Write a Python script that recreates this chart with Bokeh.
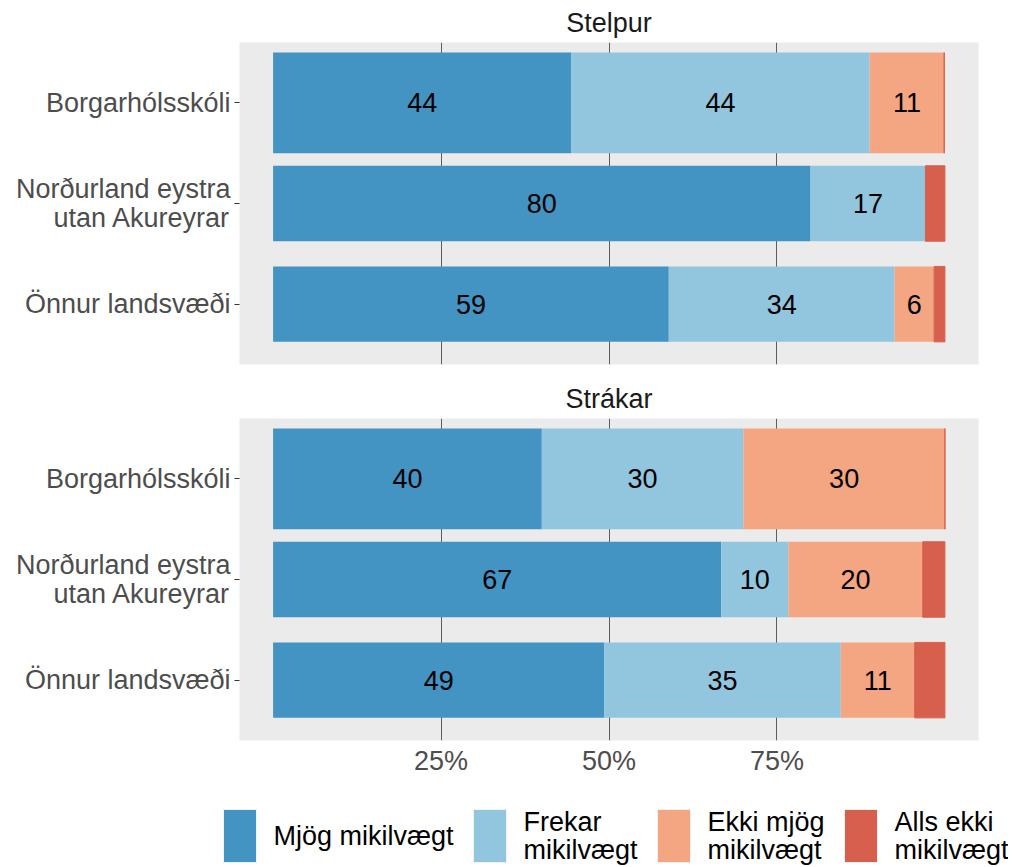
from bokeh.plotting import figure
from bokeh.models import ColumnDataSource, FactorRange, Range1d, FixedTicker
from bokeh.layouts import column
from bokeh.embed import file_html
from bokeh.resources import INLINE
from bokeh.core.properties import value

# ---------------- data ----------------
categories = ["Borgarhólsskóli", "Norðurland eystra\nutan Akureyrar", "Önnur landsvæði"]
legend_labels = ["Mjög mikilvægt", "Frekar\nmikilvægt", "Ekki mjög\nmikilvægt", "Alls ekki\nmikilvægt"]
panel_titles = ["Stelpur", "Strákar"]

stelpur_mjog = [44.4, 80.0, 58.9]
stelpur_frekar = [44.4, 17.1, 33.6]
stelpur_ekki = [11.1, 0.0, 5.9]
stelpur_alls = [0.0, 2.9, 1.6]

strakar_mjog = [40.0, 66.7, 49.3]
strakar_frekar = [30.0, 10.0, 35.2]
strakar_ekki = [30.0, 20.0, 11.0]
strakar_alls = [0.0, 3.3, 4.5]

x_ticks = [25, 50, 75]
x_tick_labels = ["25%", "50%", "75%"]

# ---------------- style ----------------
colors = ["#4393C3", "#92C5DE", "#F4A582", "#D6604D"]
FONT = "Liberation Sans"
FS = "27px"
PANEL_BG = "#EBEBEB"
GRID = "#5E5E5E"
TOTAL_W = 1008
LEGEND_H = 80
LEGEND_KEY_LEFT = [223, 473, 657, 844]   # legend layout (screen px)
KEY_W, KEY_H, KEY_GAP = 33, 53, 17


def make_panel(title, series, bottom):
    yr = FactorRange(factors=list(reversed(categories)),
                     range_padding=0.1, range_padding_units="absolute")
    p = figure(y_range=yr, x_range=Range1d(-5, 105),
               frame_width=739, frame_height=322,
               output_backend="svg", toolbar_location=None,
               title=title,
               x_axis_location="below" if bottom else None,
               min_border_left=239, min_border_right=30,
               min_border_top=42, min_border_bottom=45 if bottom else 12)
    p.outline_line_color = None
    p.background_fill_color = PANEL_BG
    p.border_fill_color = "white"

    p.title.text_font = FONT
    p.title.text_font_size = FS
    p.title.text_font_style = "normal"
    p.title.text_color = "#1A1A1A"
    p.title.align = "center"
    p.title.standoff = 9

    p.ygrid.visible = False
    p.xgrid.ticker = FixedTicker(ticks=x_ticks)
    p.xgrid.grid_line_color = GRID
    p.xgrid.grid_line_width = 1

    ya = p.yaxis[0]
    ya.axis_line_color = None
    ya.major_tick_out = 5
    ya.major_tick_in = 0
    ya.major_tick_line_color = "#333333"
    ya.major_label_standoff = 4
    ya.major_label_text_font = FONT
    ya.major_label_text_font_size = FS
    ya.major_label_text_color = "#4D4D4D"
    ya.major_label_text_line_height = 0.95

    if bottom:
        xa = p.xaxis[0]
        xa.ticker = FixedTicker(ticks=x_ticks)
        xa.major_label_overrides = {t: l for t, l in zip(x_ticks, x_tick_labels)}
        xa.axis_line_color = None
        xa.major_tick_out = 0
        xa.major_tick_in = 0
        xa.minor_tick_out = 0
        xa.minor_tick_in = 0
        xa.major_label_standoff = 5
        xa.major_label_text_font = FONT
        xa.major_label_text_font_size = FS
        xa.major_label_text_color = "#4D4D4D"

    heights = [1.0 if c == categories[0] else 0.75 for c in categories]
    left = [0.0] * len(categories)
    for k, vals in enumerate(series):
        right = [l + v for l, v in zip(left, vals)]
        src = ColumnDataSource(dict(y=categories, left=left, right=right, h=heights))
        p.hbar(y="y", left="left", right="right", height="h", source=src,
               fill_color=colors[k],
               line_color=colors[k] if k == 3 else None, line_width=1)
        lab = dict(
            x=[(a + b) / 2 for a, b in zip(left, right)],
            y=categories,
            t=[str(round(v)) if v >= 5 else "" for v in vals],
        )
        p.text(x="x", y="y", text="t", source=ColumnDataSource(lab),
               text_align="center", text_baseline="middle",
               text_font=value(FONT), text_font_size=FS, text_color="black")
        left = right
    return p


p1 = make_panel(panel_titles[0],
                [stelpur_mjog, stelpur_frekar, stelpur_ekki, stelpur_alls], False)
p2 = make_panel(panel_titles[1],
                [strakar_mjog, strakar_frekar, strakar_ekki, strakar_alls], True)

# ---------------- legend (own strip, screen-pixel coordinates) ----------------
pl = figure(width=TOTAL_W, height=LEGEND_H,
            x_range=Range1d(0, TOTAL_W), y_range=Range1d(0, LEGEND_H),
            output_backend="svg", toolbar_location=None,
            x_axis_location=None, y_axis_location=None,
            min_border=0, min_border_left=0, min_border_right=0,
            min_border_top=0, min_border_bottom=0)
pl.frame_align = False
pl.outline_line_color = None
pl.grid.visible = False
pl.background_fill_color = "white"
pl.border_fill_color = "white"
key_cy = LEGEND_H - 24 - KEY_H / 2
leg = ColumnDataSource(dict(
    kx=[x + KEY_W / 2 for x in LEGEND_KEY_LEFT],
    tx=[x + KEY_W + KEY_GAP for x in LEGEND_KEY_LEFT],
    y=[key_cy] * len(legend_labels),
    c=colors,
    t=legend_labels,
))
pl.rect(x="kx", y="y", width=KEY_W, height=KEY_H, source=leg,
        fill_color="c", line_color="#F2F2F2", line_width=1)
pl.text(x="tx", y="y", text="t", source=leg,
        text_align="left", text_baseline="middle",
        text_font=value(FONT), text_font_size=FS, text_color="black",
        text_line_height=0.95)

layout = column(p1, p2, pl, spacing=0)
open("out.html", "w").write(file_html(layout, INLINE))
